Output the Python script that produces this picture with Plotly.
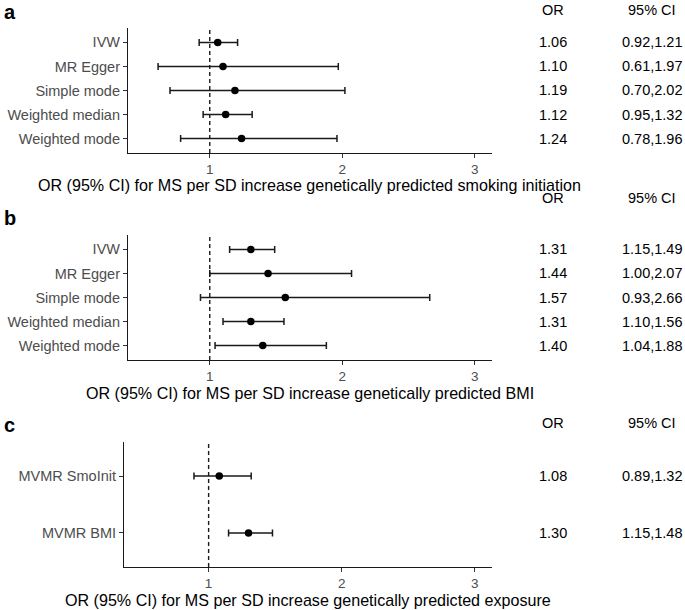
import plotly.graph_objects as go

# ---------------- data ----------------
methods_ab = ["IVW", "MR Egger", "Simple mode", "Weighted median", "Weighted mode"]

or_a = [1.06, 1.10, 1.19, 1.12, 1.24]
lo_a = [0.92, 0.61, 0.70, 0.95, 0.78]
hi_a = [1.21, 1.97, 2.02, 1.32, 1.96]

or_b = [1.31, 1.44, 1.57, 1.31, 1.40]
lo_b = [1.15, 1.00, 0.93, 1.10, 1.04]
hi_b = [1.49, 2.07, 2.66, 1.56, 1.88]

methods_c = ["MVMR SmoInit", "MVMR BMI"]
or_c = [1.08, 1.30]
lo_c = [0.89, 1.15]
hi_c = [1.32, 1.48]

panel_letters = ["a", "b", "c"]
x_titles = [
    "OR (95% CI) for MS per SD increase genetically predicted smoking initiation",
    "OR (95% CI) for MS per SD increase genetically predicted BMI",
    "OR (95% CI) for MS per SD increase genetically predicted exposure",
]
x_ticks = [1, 2, 3]

# ---------------- layout geometry ----------------
W, H = 685, 610
panels = [
    dict(cats=methods_ab, orv=or_a, lo=lo_a, hi=hi_a, x0=128, x1=492, top=28, bot=153,
         xr=[0.383, 3.13], letter_y=12, head_y=9.5, title_x=309.5, title_y=184.5),
    dict(cats=methods_ab, orv=or_b, lo=lo_b, hi=hi_b, x0=128, x1=492, top=235, bot=360,
         xr=[0.383, 3.13], letter_y=218, head_y=198, title_x=309.5, title_y=392.5),
    dict(cats=methods_c, orv=or_c, lo=lo_c, hi=hi_c, x0=124, x1=492, top=442, bot=567,
         xr=[0.364, 3.13], letter_y=425, head_y=423, title_x=308, title_y=599.5),
]

fig = go.Figure()
annotations = []
shapes = []
or_col_x = 553 / W
ci_col_x = 652 / W
FONT = "Liberation Sans, Arial, sans-serif"

for i, p in enumerate(panels):
    n = i + 1
    xa = "x" if n == 1 else f"x{n}"
    ya = "y" if n == 1 else f"y{n}"
    fig.add_trace(go.Scatter(
        x=p["orv"], y=p["cats"], mode="markers",
        marker=dict(color="black", size=7.5),
        error_x=dict(type="data", symmetric=False,
                     array=[h - o for h, o in zip(p["hi"], p["orv"])],
                     arrayminus=[o - l for o, l in zip(p["orv"], p["lo"])],
                     color="#1a1a1a", thickness=1.5, width=3.5),
        xaxis=xa, yaxis=ya, showlegend=False, hoverinfo="x+y",
    ))
    ncat = len(p["cats"])
    axis_common = dict(showline=True, linecolor="#1a1a1a", linewidth=1.2,
                       ticks="outside", ticklen=4, tickcolor="#333333", tickwidth=1,
                       showgrid=False, zeroline=False)
    fig.update_layout(**{
        ("xaxis" if n == 1 else f"xaxis{n}"): dict(
            domain=[p["x0"] / W, p["x1"] / W], range=p["xr"], anchor=ya,
            tickvals=x_ticks, ticktext=[str(t) for t in x_ticks],
            tickfont=dict(family=FONT, size=13.5, color="#4D4D4D"),
            **axis_common),
        ("yaxis" if n == 1 else f"yaxis{n}"): dict(
            domain=[1 - p["bot"] / H, 1 - p["top"] / H], anchor=xa,
            type="category", categoryorder="array", categoryarray=p["cats"],
            range=[ncat - 0.4, -0.6],
            tickfont=dict(family=FONT, size=14.5, color="#4D4D4D"),
            **axis_common),
    })
    # x-axis title
    annotations.append(dict(text=x_titles[i], xref="paper", yref="paper",
                            x=p["title_x"] / W, y=1 - p["title_y"] / H,
                            xanchor="center", yanchor="middle", showarrow=False, borderpad=0,
                            font=dict(family=FONT, size=16.1, color="black")))
    # dashed reference line at OR = 1
    shapes.append(dict(type="line", xref=xa, yref=f"{ya} domain", x0=1, x1=1, y0=0, y1=1,
                       line=dict(color="#1a1a1a", width=1.4, dash="4px,3px")))
    # panel letter
    annotations.append(dict(text=f"<b>{panel_letters[i]}</b>", xref="paper", yref="paper",
                            x=3 / W, y=1 - p["letter_y"] / H, xanchor="left", yanchor="middle",
                            showarrow=False, borderpad=0,
                            font=dict(family=FONT, size=20, color="black")))
    # column headers
    for txt, cx in (("OR", or_col_x), ("95% CI", ci_col_x)):
        annotations.append(dict(text=txt, xref="paper", yref="paper", x=cx,
                                y=1 - p["head_y"] / H, xanchor="center", yanchor="middle",
                                showarrow=False, borderpad=0,
                                font=dict(family=FONT, size=14.5, color="black")))
    # values
    for cat, o, l, h in zip(p["cats"], p["orv"], p["lo"], p["hi"]):
        annotations.append(dict(text=f"{o:.2f}", xref="paper", yref=ya, x=or_col_x, y=cat,
                                xanchor="center", yanchor="middle", showarrow=False, borderpad=0,
                                font=dict(family=FONT, size=14.5, color="black")))
        annotations.append(dict(text=f"{l:.2f},{h:.2f}", xref="paper", yref=ya, x=ci_col_x, y=cat,
                                xanchor="center", yanchor="middle", showarrow=False, borderpad=0,
                                font=dict(family=FONT, size=14.5, color="black")))

fig.update_layout(width=W, height=H, margin=dict(l=0, r=0, t=0, b=0),
                  paper_bgcolor="white", plot_bgcolor="white",
                  annotations=annotations, shapes=shapes,
                  font=dict(family=FONT))
fig.write_html("out.html", config={"displayModeBar": False},
               post_script="document.body.style.margin='0';document.body.style.overflow='hidden';")
